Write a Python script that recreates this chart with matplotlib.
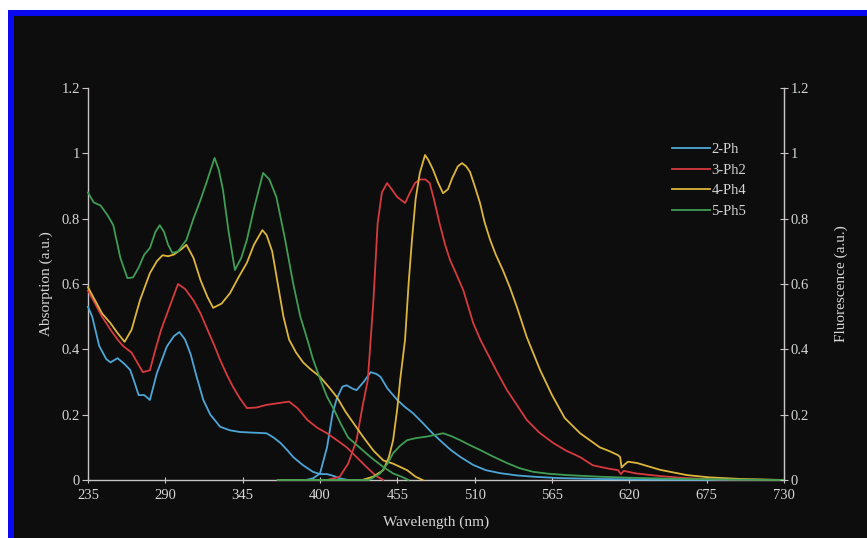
import matplotlib
matplotlib.use("Agg")
import matplotlib.pyplot as plt
from matplotlib.patches import Rectangle

# ---------------- data ----------------
series_names = ["2-Ph", "3-Ph2", "4-Ph4", "5-Ph5"]

abs_2ph_nm = [235, 238, 243, 248, 251, 256, 261, 265, 268, 271, 275, 279, 284, 291, 296, 300, 304, 308, 312,
              317, 322, 329, 336, 343, 352, 362, 367, 372, 377, 381, 388, 395, 400, 405, 410, 414, 420]
abs_2ph = [0.53, 0.50, 0.41, 0.37, 0.36, 0.373, 0.355, 0.337, 0.30, 0.26, 0.26, 0.245, 0.327, 0.408, 0.44,
           0.453, 0.43, 0.385, 0.32, 0.245, 0.20, 0.163, 0.152, 0.147, 0.145, 0.143, 0.13, 0.113, 0.09, 0.07,
           0.045, 0.025, 0.018, 0.018, 0.012, 0.005, 0.0]

abs_3ph2_nm = [235, 240, 245, 251, 256, 260, 266, 270, 274, 279, 283, 287, 293, 299, 304, 310, 315, 320, 325,
               329, 334, 338, 343, 348, 355, 362, 370, 378, 384, 391, 398, 405, 412, 419, 426, 433, 440, 445]
abs_3ph2 = [0.58, 0.54, 0.50, 0.46, 0.43, 0.41, 0.39, 0.36, 0.33, 0.336, 0.40, 0.46, 0.53, 0.60, 0.585, 0.55,
            0.51, 0.46, 0.41, 0.367, 0.32, 0.286, 0.25, 0.22, 0.222, 0.23, 0.235, 0.24, 0.22, 0.184, 0.16,
            0.143, 0.122, 0.10, 0.07, 0.04, 0.012, 0.0]

abs_4ph4_nm = [235, 240, 245, 251, 256, 261, 266, 272, 279, 284, 288, 292, 296, 301, 305, 310, 315, 320, 324,
               330, 336, 342, 348, 353, 359, 362, 366, 370, 374, 378, 383, 388, 393, 400, 406, 412, 418, 424,
               431, 438, 445, 452, 457, 462, 468, 473]
abs_4ph4 = [0.59, 0.55, 0.51, 0.48, 0.45, 0.423, 0.46, 0.551, 0.633, 0.67, 0.688, 0.685, 0.69, 0.705, 0.72,
            0.68, 0.612, 0.56, 0.527, 0.54, 0.572, 0.62, 0.665, 0.72, 0.765, 0.75, 0.70, 0.60, 0.50, 0.43,
            0.39, 0.36, 0.34, 0.316, 0.286, 0.254, 0.21, 0.173, 0.13, 0.09, 0.06, 0.05, 0.04, 0.03, 0.01, 0.0]

abs_5ph5_nm = [235, 239, 244, 249, 253, 258, 263, 267, 271, 275, 279, 283, 286, 289, 292, 295, 299, 305, 310,
               315, 320, 325, 328, 331, 335, 339.5, 344, 348, 353, 359.5, 364, 369, 375, 381, 386, 391, 395,
               400, 405, 410, 415, 420, 428, 436, 445, 452, 458, 463]
abs_5ph5 = [0.88, 0.85, 0.84, 0.81, 0.78, 0.68, 0.618, 0.62, 0.65, 0.69, 0.71, 0.76, 0.78, 0.76, 0.72, 0.695,
            0.70, 0.735, 0.80, 0.857, 0.92, 0.986, 0.95, 0.888, 0.76, 0.643, 0.68, 0.735, 0.83, 0.94, 0.92,
            0.866, 0.74, 0.60, 0.50, 0.43, 0.37, 0.31, 0.255, 0.215, 0.17, 0.13, 0.10, 0.07, 0.04, 0.02,
            0.01, 0.0]

fl_2ph_nm = [370, 390, 395, 400, 405, 409, 412, 416, 419, 423, 426, 431, 436, 440, 443, 448, 455, 460, 466,
             473, 480, 487, 493, 500, 509, 518, 528, 540, 552, 570, 600, 640, 730]
fl_2ph = [0, 0, 0.005, 0.02, 0.10, 0.205, 0.25, 0.286, 0.29, 0.28, 0.275, 0.30, 0.33, 0.325, 0.316, 0.28,
          0.245, 0.225, 0.205, 0.175, 0.143, 0.115, 0.092, 0.07, 0.046, 0.03, 0.021, 0.014, 0.01, 0.006,
          0.003, 0.001, 0]

fl_3ph2_nm = [370, 405, 414, 420, 426, 430, 434, 438, 441, 444, 447.7, 451, 455, 460.5, 464, 467.6, 471, 475,
              478, 481, 485, 489, 492.5, 497, 502, 509, 514, 519, 526, 533, 540, 547, 556, 566, 575, 585, 594,
              605, 612, 614, 616, 625, 642, 660, 680, 730]
fl_3ph2 = [0, 0, 0.01, 0.05, 0.122, 0.22, 0.306, 0.55, 0.786, 0.88, 0.909, 0.89, 0.866, 0.848, 0.88, 0.909,
           0.92, 0.92, 0.909, 0.86, 0.786, 0.72, 0.673, 0.63, 0.58, 0.48, 0.43, 0.388, 0.33, 0.275, 0.23,
           0.184, 0.145, 0.113, 0.09, 0.07, 0.045, 0.035, 0.03, 0.018, 0.028, 0.02, 0.012, 0.006, 0.002, 0]

fl_4ph4_nm = [370, 430, 437.7, 445, 449, 452, 455, 457, 460.5, 463, 465.4, 468, 471, 474.7, 477, 480.4, 484,
              487.5, 491, 494, 498, 501, 504, 506.7, 510, 513.8, 517, 521, 525, 530, 535, 540, 547, 556.5,
              565, 574, 585, 599, 606, 612, 613.5, 614.5, 616, 619, 625.5, 642, 661, 677, 700, 730]
fl_4ph4 = [0, 0, 0.01, 0.03, 0.07, 0.122, 0.22, 0.306, 0.43, 0.6, 0.735, 0.86, 0.94, 0.995, 0.98, 0.95,
           0.91, 0.878, 0.89, 0.924, 0.96, 0.97, 0.96, 0.943, 0.9, 0.848, 0.79, 0.735, 0.69, 0.643, 0.59,
           0.53, 0.438, 0.337, 0.26, 0.19, 0.143, 0.10, 0.088, 0.076, 0.07, 0.038, 0.045, 0.056, 0.052,
           0.031, 0.015, 0.008, 0.003, 0]

fl_5ph5_nm = [370, 435, 442.7, 448, 452, 457, 462, 468, 476, 482, 487.5, 493, 499.6, 506, 513.8, 523, 533,
              542, 551.6, 563, 575.7, 599, 620, 650, 700, 730]
fl_5ph5 = [0, 0, 0.02, 0.05, 0.082, 0.105, 0.122, 0.128, 0.133, 0.138, 0.143, 0.135, 0.122, 0.108, 0.092,
           0.072, 0.052, 0.036, 0.025, 0.019, 0.015, 0.01, 0.007, 0.004, 0.001, 0]

x_ticks = [235, 290, 345, 400, 455, 510, 565, 620, 675, 730]
y_ticks = [0, 0.2, 0.4, 0.6, 0.8, 1.0, 1.2]
y_tick_labels = ["0", "0.2", "0.4", "0.6", "0.8", "1", "1.2"]

# ---------------- style ----------------
colors = ["#4da6d6", "#d63a3e", "#dcb63c", "#3f9d55"]
BG = "#0d0d0d"
FG = "#d6d6d6"
SPINE = "#c8c4c4"

plt.rcParams["font.family"] = ["Liberation Serif", "DejaVu Serif"]

fig = plt.figure(figsize=(8.67, 5.38), dpi=100, facecolor="white")
W, H = 867.0, 538.0
fig.patches.append(Rectangle((8 / W, -0.01), 1.02, (538 - 10) / H + 0.01, transform=fig.transFigure,
                             facecolor="#0a0af0", edgecolor="none", zorder=-10))
fig.patches.append(Rectangle((14 / W, -0.01), 1.02, (538 - 16) / H + 0.01, transform=fig.transFigure,
                             facecolor=BG, edgecolor="none", zorder=-9))

ax = fig.add_axes([88 / W, (538 - 480) / H, (784 - 88) / W, (480 - 88) / H])
ax.set_facecolor("none")

abs_nm = [abs_2ph_nm, abs_3ph2_nm, abs_4ph4_nm, abs_5ph5_nm]
abs_vals = [abs_2ph, abs_3ph2, abs_4ph4, abs_5ph5]
fl_nm = [fl_2ph_nm, fl_3ph2_nm, fl_4ph4_nm, fl_5ph5_nm]
fl_vals = [fl_2ph, fl_3ph2, fl_4ph4, fl_5ph5]

for i in range(4):
    ax.plot(abs_nm[i], abs_vals[i], color=colors[i], lw=1.3, label=series_names[i], zorder=3,
            clip_on=False, solid_joinstyle="round")
    ax.plot(fl_nm[i], fl_vals[i], color=colors[i], lw=1.3, zorder=3, clip_on=False, solid_joinstyle="round")

ax.set_xlim(235, 730)
ax.set_ylim(0, 1.2)
ax.set_xticks(x_ticks)
ax.set_xticklabels([str(v) for v in x_ticks])
ax.set_yticks(y_ticks)
ax.set_yticklabels(y_tick_labels)

ax.spines["top"].set_visible(False)
for s in ["left", "bottom", "right"]:
    ax.spines[s].set_color(SPINE)
    ax.spines[s].set_linewidth(1.0)

ax.tick_params(axis="y", which="both", direction="out", length=4, color=SPINE, labelcolor=FG,
               labelsize=10.5, pad=2)
ax.tick_params(axis="x", which="both", direction="inout", length=5, color=SPINE, labelcolor=FG,
               labelsize=10.5, pad=4)

ax2 = ax.twinx()
ax2.set_ylim(0, 1.2)
ax2.set_yticks(y_ticks)
ax2.set_yticklabels(y_tick_labels)
for s in ["top", "left", "bottom"]:
    ax2.spines[s].set_visible(False)
ax2.spines["right"].set_color(SPINE)
ax2.tick_params(axis="y", direction="inout", length=6, color=SPINE, labelcolor=FG, labelsize=10.5, pad=2)

ax.set_xlabel("Wavelength (nm)", color=FG, fontsize=11, labelpad=10)
ax.set_ylabel("Absorption (a.u.)", color=FG, fontsize=11, labelpad=6)
ax2.set_ylabel("Fluorescence (a.u.)", color=FG, fontsize=11, labelpad=18, rotation=90)

leg = ax.legend(loc="upper left", bbox_to_anchor=(672 / W, (538 - 143) / H), bbox_transform=fig.transFigure,
                frameon=False, fontsize=10.5, handlelength=2.6, handletextpad=0.1, labelspacing=0.5,
                borderpad=0, borderaxespad=0)
for t in leg.get_texts():
    t.set_color(FG)

fig.savefig("out.png", dpi=100, facecolor=fig.get_facecolor())
